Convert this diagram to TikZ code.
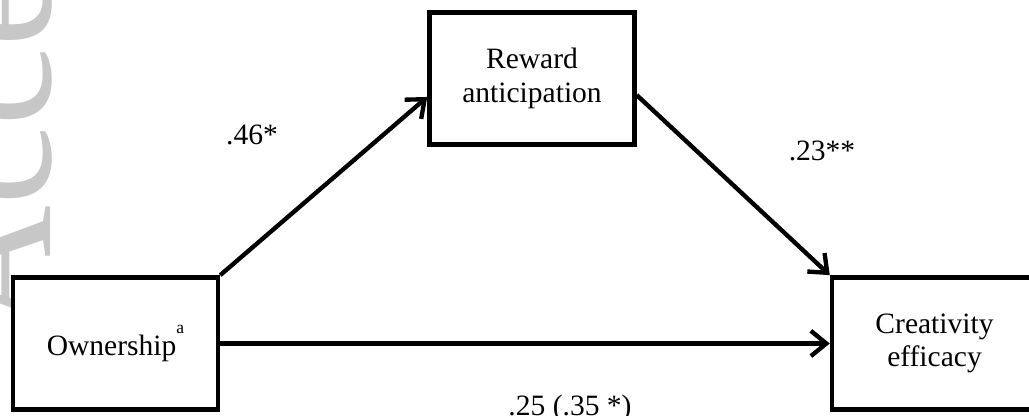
\documentclass[tikz,border=0pt]{standalone}
\usepackage{fontspec}
\setmainfont{Liberation Serif}
\usepackage{tikz}
\usetikzlibrary{arrows.meta}

\begin{document}
\begin{tikzpicture}[x=0.025cm,y=0.025cm,
    var/.style={draw,fill=white,line width=3.3pt,rectangle,minimum width=5.12cm,minimum height=3.3cm,inner sep=0pt,align=center,font=\fontsize{21}{24}\selectfont,text=black},
    coef/.style={anchor=base,inner sep=0pt,font=\fontsize{21}{24}\selectfont,text=black},
    link/.style={line width=3.1pt,-{Straight Barb[length=11pt,width=18pt]}},
    stamp/.style={text=black!22,font=\fontsize{127}{127}\selectfont,rotate=90,anchor=base west,inner sep=0pt}]
                \useasboundingbox (0,0) rectangle (1029,415);
                \clip (0,0) rectangle (1029,415);
                \node[stamp] (wm) at (50,80) {Accepted};
                \node[var] (own) at (115.5,71.5) {Ownership\raisebox{0.72em}{\fontsize{12.5}{12.5}\selectfont a}};
                \node[var] (rew) at (532,336.5) {Reward\\anticipation};
                \node[var] (cre) at (934.5,71.5) {Creativity\\efficacy};
                \draw[link] (own.north east) -- (rew.190.6);
                \draw[link] (rew.-9) -- (cre.north west);
                \draw[link] (own) -- (cre);
                \node[coef] (b1) at (252,270) {.46*};
                \node[coef] (b2) at (822,255) {.23**};
                \node[coef] (b3) at (570,0) {.25 (.35 *)};
\end{tikzpicture}
\end{document}
